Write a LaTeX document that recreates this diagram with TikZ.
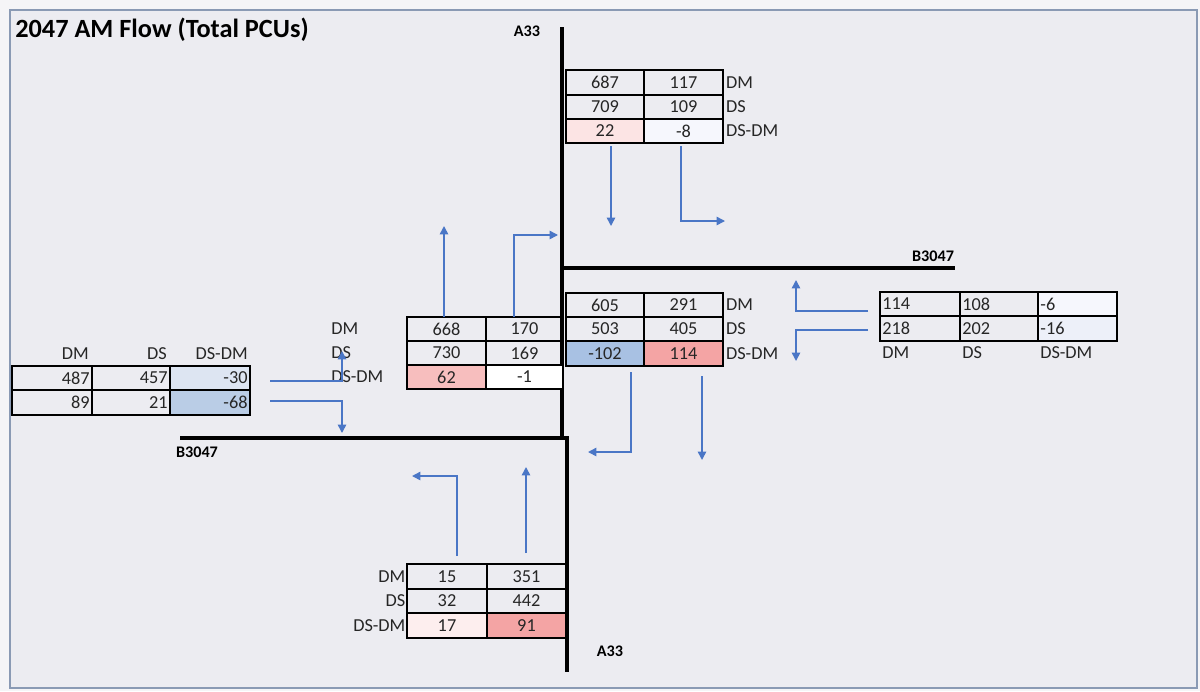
\documentclass[tikz,border=0pt]{standalone}
\usepackage{fontspec}
\setmainfont{Carlito}
\usetikzlibrary{arrows.meta}
\definecolor{bg}{HTML}{ECECF1}
\definecolor{outbg}{HTML}{F5F5F7}
\definecolor{framec}{HTML}{8A9AB4}
\definecolor{arrowblue}{HTML}{4A76C6}
\definecolor{pinkA}{HTML}{FCE4E4}
\definecolor{pinkB}{HTML}{F7BEBE}
\definecolor{pinkC}{HTML}{FDEEEE}
\definecolor{redA}{HTML}{F4A4A4}
\definecolor{blueA}{HTML}{A8C1E3}
\definecolor{blueB}{HTML}{BACDE6}
\definecolor{blueC}{HTML}{DDE5F2}
\definecolor{blueD}{HTML}{F6F7FD}
\definecolor{blueE}{HTML}{EDF0F9}
\newcommand{\cellbox}[6]{\node[cellst,fill=#6,minimum width={((#4)-(#2))*0.025cm},minimum height={((#5)-(#3))*0.025cm}] (#1) at ({((#2)+(#4))/2},{((#3)+(#5))/2}) {};}
\tikzset{
  road/.style={line width=3pt, draw=black},
  flow/.style={draw=arrowblue, line width=1.1pt, -{Triangle[width=6pt,length=6pt]}},
  cellst/.style={draw=black, line width=0.9pt, inner sep=0pt, outer sep=0pt},
  val/.style={font=\fontsize{13}{15}\selectfont, inner sep=0pt, text=black!85},
  roadlab/.style={font=\bfseries\fontsize{11.5}{13}\selectfont, inner sep=0pt},
}
\begin{document}
\begin{tikzpicture}[x=0.025cm,y=-0.025cm]
\useasboundingbox (0,0) rectangle (1200,691);
\fill[outbg] (0,0) rectangle (1200,691);
\draw[draw=framec, fill=bg, line width=0.8pt] (10,10) rectangle (1197,688);
\node[anchor=west, inner sep=0pt, font=\bfseries\fontsize{18.7}{21}\selectfont] (title) at (15,30) {2047 AM Flow (Total PCUs)};

% roads
\coordinate (rN) at (562,27);
\coordinate (rJ1) at (562,268);
\coordinate (rJ2) at (562,438);
\coordinate (rE) at (955,268);
\coordinate (rW) at (180,438);
\coordinate (rC) at (567,438);
\coordinate (rS) at (567,672);
\draw[road] (rN) -- (rJ2);
\draw[road] (rJ1) -- (rE);
\draw[road] (rW) -- (rC) -- (rS);
\node[roadlab] (labN) at (527,31) {A33};
\node[roadlab] (labE) at (933,256) {B3047};
\node[roadlab] (labW) at (197,452) {B3047};
\node[roadlab] (labS) at (610,651) {A33};

% north table
\cellbox{n11}{566}{70}{644}{95}{none}
\cellbox{n12}{644}{70}{723}{95}{none}
\cellbox{n21}{566}{95}{644}{119}{none}
\cellbox{n22}{644}{95}{723}{119}{none}
\cellbox{n31}{566}{119}{644}{143}{pinkA}
\cellbox{n32}{644}{119}{723}{143}{blueD}
\node[val] (tn11) at (n11) {687};
\node[val] (tn12) at (n12) {117};
\node[val] (tn21) at (n21) {709};
\node[val] (tn22) at (n22) {109};
\node[val] (tn31) at (n31) {22};
\node[val] (tn32) at (n32) {-8};
\node[val,anchor=west] (ln1) at ([xshift=2pt]n12.east) {DM};
\node[val,anchor=west] (ln2) at ([xshift=2pt]n22.east) {DS};
\node[val,anchor=west] (ln3) at ([xshift=2pt]n32.east) {DS-DM};

% north arrows
\coordinate (na1s) at (611,146); \coordinate (na1e) at (611,226);
\coordinate (na2s) at (681,146); \coordinate (na2e) at (725,221);
\draw[flow] (na1s) -- (na1e);
\draw[flow] (na2s) |- (na2e);

% centre-left table
\cellbox{w11}{407}{317}{486}{341}{none}
\cellbox{w12}{486}{317}{563}{341}{none}
\cellbox{w21}{407}{341}{486}{365}{none}
\cellbox{w22}{486}{341}{563}{365}{none}
\cellbox{w31}{407}{365}{486}{389}{pinkB}
\cellbox{w32}{486}{365}{563}{389}{white}
\node[val] (tw11) at (w11) {668};
\node[val] (tw12) at (w12) {170};
\node[val] (tw21) at (w21) {730};
\node[val] (tw22) at (w22) {169};
\node[val] (tw31) at (w31) {62};
\node[val] (tw32) at (w32) {-1};
\node[val,anchor=west] (lw1) at (331,329) {DM};
\node[val,anchor=west] (lw2) at (331,353) {DS};
\node[val,anchor=west] (lw3) at (331,377) {DS-DM};

% centre-left arrows
\coordinate (ca1s) at (444,317); \coordinate (ca1e) at (444,226);
\coordinate (ca2s) at (514,317); \coordinate (ca2e) at (558,235);
\draw[flow] (ca1s) -- (ca1e);
\draw[flow] (ca2s) |- (ca2e);

% centre-right table
\cellbox{c11}{566}{293}{644}{317}{none}
\cellbox{c12}{644}{293}{723}{317}{none}
\cellbox{c21}{566}{317}{644}{341}{none}
\cellbox{c22}{644}{317}{723}{341}{none}
\cellbox{c31}{566}{341}{644}{366}{blueA}
\cellbox{c32}{644}{341}{723}{366}{redA}
\node[val] (tc11) at (c11) {605};
\node[val] (tc12) at (c12) {291};
\node[val] (tc21) at (c21) {503};
\node[val] (tc22) at (c22) {405};
\node[val] (tc31) at (c31) {-102};
\node[val] (tc32) at (c32) {114};
\node[val,anchor=west] (lc1) at ([xshift=2pt]c12.east) {DM};
\node[val,anchor=west] (lc2) at ([xshift=2pt]c22.east) {DS};
\node[val,anchor=west] (lc3) at ([xshift=2pt]c32.east) {DS-DM};

% centre-right arrows
\coordinate (cb1s) at (631,372); \coordinate (cb1e) at (588,452);
\coordinate (cb2s) at (702,376); \coordinate (cb2e) at (702,460);
\draw[flow] (cb1s) |- (cb1e);
\draw[flow] (cb2s) -- (cb2e);

% east table
\cellbox{e11}{880}{292}{960}{316}{none}
\cellbox{e12}{960}{292}{1038}{316}{none}
\cellbox{e13}{1038}{292}{1117}{316}{blueD}
\cellbox{e21}{880}{316}{960}{341}{none}
\cellbox{e22}{960}{316}{1038}{341}{none}
\cellbox{e23}{1038}{316}{1117}{341}{blueE}
\node[val,anchor=west] (te11) at ([xshift=1.5pt]e11.west) {114};
\node[val,anchor=west] (te12) at ([xshift=1.5pt]e12.west) {108};
\node[val,anchor=west] (te13) at ([xshift=1.5pt]e13.west) {-6};
\node[val,anchor=west] (te21) at ([xshift=1.5pt]e21.west) {218};
\node[val,anchor=west] (te22) at ([xshift=1.5pt]e22.west) {202};
\node[val,anchor=west] (te23) at ([xshift=1.5pt]e23.west) {-16};
\node[val,anchor=west] (le1) at (882,353) {DM};
\node[val,anchor=west] (le2) at (962,353) {DS};
\node[val,anchor=west] (le3) at (1040,353) {DS-DM};

% east arrows
\coordinate (ea1s) at (868,311); \coordinate (ea1e) at (796,280);
\coordinate (ea2s) at (868,330); \coordinate (ea2e) at (796,361);
\draw[flow] (ea1s) -| (ea1e);
\draw[flow] (ea2s) -| (ea2e);

% west table
\cellbox{v11}{12}{366}{92}{390}{none}
\cellbox{v12}{92}{366}{170}{390}{none}
\cellbox{v13}{170}{366}{250}{390}{blueC}
\cellbox{v21}{12}{390}{92}{415}{none}
\cellbox{v22}{92}{390}{170}{415}{none}
\cellbox{v23}{170}{390}{250}{415}{blueB}
\node[val,anchor=east] (tv11) at ([xshift=-1.5pt]v11.east) {487};
\node[val,anchor=east] (tv12) at ([xshift=-1.5pt]v12.east) {457};
\node[val,anchor=east] (tv13) at ([xshift=-1.5pt]v13.east) {-30};
\node[val,anchor=east] (tv21) at ([xshift=-1.5pt]v21.east) {89};
\node[val,anchor=east] (tv22) at ([xshift=-1.5pt]v22.east) {21};
\node[val,anchor=east] (tv23) at ([xshift=-1.5pt]v23.east) {-68};
\node[val,anchor=east] (lv1) at (89,354) {DM};
\node[val,anchor=east] (lv2) at (167,354) {DS};
\node[val,anchor=east] (lv3) at (248,354) {DS-DM};

% west arrows
\coordinate (va1s) at (270,381); \coordinate (va1e) at (342,351);
\coordinate (va2s) at (270,401); \coordinate (va2e) at (342,433);
\draw[flow] (va1s) -| (va1e);
\draw[flow] (va2s) -| (va2e);

% south table
\cellbox{s11}{407}{564}{487}{589}{none}
\cellbox{s12}{487}{564}{566}{589}{none}
\cellbox{s21}{407}{589}{487}{613}{none}
\cellbox{s22}{487}{589}{566}{613}{none}
\cellbox{s31}{407}{613}{487}{638}{pinkC}
\cellbox{s32}{487}{613}{566}{638}{redA}
\node[val] (ts11) at (s11) {15};
\node[val] (ts12) at (s12) {351};
\node[val] (ts21) at (s21) {32};
\node[val] (ts22) at (s22) {442};
\node[val] (ts31) at (s31) {17};
\node[val] (ts32) at (s32) {91};
\node[val,anchor=east] (ls1) at ([xshift=-1pt]s11.west) {DM};
\node[val,anchor=east] (ls2) at ([xshift=-1pt]s21.west) {DS};
\node[val,anchor=east] (ls3) at ([xshift=-1pt]s31.west) {DS-DM};

% south arrows
\coordinate (sa1s) at (457,556); \coordinate (sa1e) at (412,476);
\coordinate (sa2s) at (526,553); \coordinate (sa2e) at (526,467);
\draw[flow] (sa1s) |- (sa1e);
\draw[flow] (sa2s) -- (sa2e);
\end{tikzpicture}
\end{document}
